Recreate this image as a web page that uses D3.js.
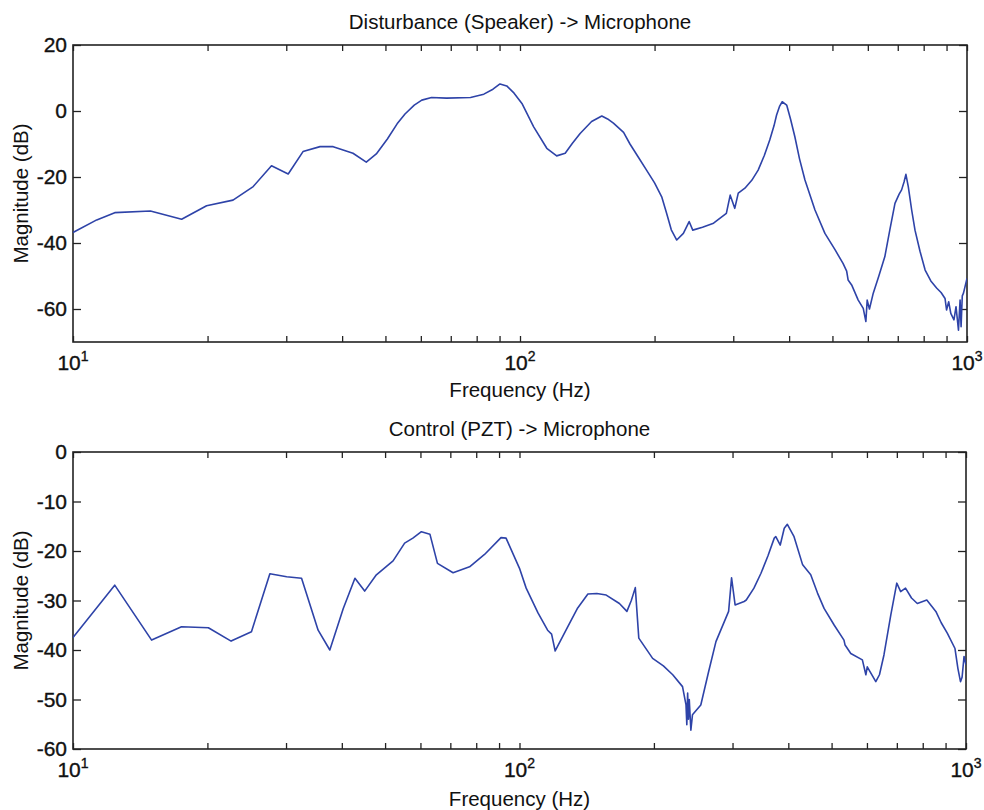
<!DOCTYPE html>
<html>
<head>
<meta charset="utf-8">
<script src="https://cdn.jsdelivr.net/npm/d3@7"></script>
<style>
  html, body { margin: 0; padding: 0; background: #fff; }
  svg { display: block; }
  text { font-family: "Liberation Sans", Arial, Helvetica, sans-serif; fill: #111; }
</style>
</head>
<body>
<svg id="chart" width="984" height="810"></svg>
<script>
// ---------------- DATA ----------------
const titles = ["Disturbance (Speaker) -> Microphone", "Control (PZT) -> Microphone"];
const xLabel = "Frequency (Hz)";
const yLabel = "Magnitude (dB)";

const xMajorTicks = [10, 100, 1000];
const xMajorExp = ["1", "2", "3"];
const xMinorTicks = [20, 30, 40, 50, 60, 70, 80, 90, 200, 300, 400, 500, 600, 700, 800, 900];

const yTicksTop = [20, 0, -20, -40, -60];
const yTickLabelsTop = ["20", "0", "-20", "-40", "-60"];
const yDomainTop = [-70, 20];

const yTicksBottom = [0, -10, -20, -30, -40, -50, -60];
const yTickLabelsBottom = ["0", "-10", "-20", "-30", "-40", "-50", "-60"];
const yDomainBottom = [-60, 0];

// Disturbance (Speaker) -> Microphone
const distFreq = [10, 11.3, 12.4, 14.9, 17.5, 19.9, 22.8, 25.3, 27.8, 30.3, 32.7, 35.7, 38.2, 42.3, 45.3, 47.7,
  50.5, 53.1, 55.3, 58, 60.3, 63.4, 68.5, 77.5, 83.0, 87, 90.2, 93.4, 97, 101, 107.3, 114.8, 120.8, 126.2, 131, 136.3, 144.6,
  152.4, 157, 161.8, 170.5, 176.2, 184, 191.9, 200, 207.5, 212.8, 218, 224.2, 232, 239, 243.5, 256, 271, 289.5, 295.3, 302.3,
  307.8, 318.5, 330, 341, 352, 362, 370, 375, 381, 386, 395, 403, 412, 422, 434, 457, 481, 507, 528, 538, 542, 552, 571, 586, 594,
  598, 605, 617, 635, 655, 672, 690, 705, 714, 723, 730, 739, 752, 765, 785, 806, 830, 856, 875, 893, 900, 910, 920, 935, 945,
  957, 965, 970, 976, 982, 1000];
const distDB = [-36.8, -33.0, -30.8, -30.3, -32.8, -28.7, -27.0, -22.9, -16.6, -19.1, -12.3, -10.8, -10.8, -12.8, -15.5, -13.0,
  -8.5, -3.9, -0.9, 1.8, 3.3, 4.1, 3.9, 4.1, 5.1, 6.6, 8.2, 7.6, 5.4, 2.3, -4.8, -11.3, -13.6, -12.8, -9.8, -6.8, -3.2,
  -1.5, -2.4, -3.7, -6.5, -10.0, -14.0, -17.9, -21.8, -26.0, -31.0, -36.0, -39.1, -37.1, -33.5, -36.1, -35.2, -34.0, -31.0, -25.5, -29.5,
  -24.9, -23.4, -21.0, -17.9, -13.5, -8.8, -4.5, -1.2, 1.5, 2.8, 1.8, -2.5, -7.8, -14.5, -20.9, -30.0, -37.1, -42.1, -46.2, -48.5, -51.2, -52.7, -57.3, -59.8, -63.8,
  -57.3, -60.0, -55.2, -50.0, -44.1, -36.0, -28.0, -25.2, -23.9, -21.5, -19.2, -22.9, -30.0, -36.1, -42.5, -48.2, -51.5, -53.7, -55.0, -56.8, -60.3, -57.8, -61.3, -63.3, -59.3,
  -66.4, -57.3, -65.4, -56.0, -55.2, -50.7];

// Control (PZT) -> Microphone
const ctrlFreq = [10, 12.4, 15.0, 17.5, 20.1, 22.6, 25.1, 27.6, 30.1, 32.5, 35.4, 37.6, 40.3, 42.8, 45.0, 47.8,
  52.1, 55.3, 57.7, 60.3, 63.0, 65.5, 71.0, 77.3, 83.5, 90.9, 93.3, 100, 103.5, 110, 115.6, 118, 120.2, 128.3,
  135, 142.3, 149, 156.4, 167.4, 174, 178, 181.7, 185, 198.7, 210, 220.4, 231.8, 236, 237, 238, 239, 240, 242, 244, 254.7,
  265, 275.4, 294, 298.5, 304, 318.5, 322, 335, 347.4, 360, 372, 375, 383.7, 391.7, 398, 412, 430.7, 449, 465, 481, 507,
  533, 536, 552, 586, 596.7, 601, 628, 640, 655, 678.6, 699.8, 714, 732, 755, 778, 817, 856, 880, 908, 944.8, 959,
  972, 980, 990, 1000];
const ctrlDB = [-37.5, -26.9, -38.0, -35.3, -35.5, -38.2, -36.3, -24.6, -25.2, -25.5, -36.0, -40.0, -31.6, -25.5, -28.1, -24.8,
  -22.0, -18.4, -17.4, -16.1, -16.6, -22.5, -24.4, -23.2, -20.7, -17.3, -17.4, -23.5, -27.5, -32.5, -36.0, -36.8, -40.2, -35.3,
  -31.5, -28.7, -28.6, -28.9, -30.6, -32.2, -30.0, -27.4, -37.6, -41.7, -43.2, -45.0, -47.4, -51.1, -55.1, -48.7, -54.0, -50.0, -56.2, -53.1, -51.1,
  -44.5, -38.3, -32.2, -25.4, -30.9, -30.2, -29.9, -27.5, -24.5, -21.0, -17.4, -17.1, -18.8, -15.4, -14.6, -17.1, -22.8, -24.8, -28.5, -31.6, -35.0,
  -38.0, -39.0, -40.7, -42.0, -45.0, -43.4, -46.4, -45.0, -41.0, -32.9, -26.5, -28.2, -27.5, -29.5, -30.6, -29.9, -32.2, -34.5, -36.6, -39.7, -43.7,
  -46.4, -45.5, -41.3, -43.0];

// ---------------- DRAW ----------------
const svg = d3.select("#chart");
const lineColor = "#2e43a8";

const panels = [
  { left: 73, right: 967, top: 45, bottom: 342, title: titles[0], titleY: 29, xLabelY: 397,
    yDomain: yDomainTop, yTicks: yTicksTop, yTickLabels: yTickLabelsTop, freq: distFreq, db: distDB },
  { left: 73, right: 966, top: 452, bottom: 749, title: titles[1], titleY: 436, xLabelY: 806,
    yDomain: yDomainBottom, yTicks: yTicksBottom, yTickLabels: yTickLabelsBottom, freq: ctrlFreq, db: ctrlDB }
];

panels.forEach((p, i) => {
  const x = d3.scaleLog().domain([10, 1000]).range([p.left, p.right]);
  const y = d3.scaleLinear().domain(p.yDomain).range([p.bottom, p.top]);
  const g = svg.append("g");

  const clipId = "clip" + i;
  svg.append("clipPath").attr("id", clipId).append("rect")
    .attr("x", p.left).attr("y", p.top).attr("width", p.right - p.left).attr("height", p.bottom - p.top);

  const allX = xMajorTicks.concat(xMinorTicks);
  const xAxisB = d3.axisBottom(x).tickValues(allX).tickSizeInner(-6).tickSizeOuter(0).tickFormat("");
  const xAxisT = d3.axisTop(x).tickValues(allX).tickSizeInner(-6).tickSizeOuter(0).tickFormat("");
  g.append("g").attr("transform", `translate(0,${p.bottom})`).call(xAxisB);
  g.append("g").attr("transform", `translate(0,${p.top})`).call(xAxisT);

  const yAxisL = d3.axisLeft(y).tickValues(p.yTicks).tickSizeInner(-8).tickSizeOuter(0).tickPadding(6)
    .tickFormat((d, k) => p.yTickLabels[k]);
  const yAxisR = d3.axisRight(y).tickValues(p.yTicks).tickSizeInner(-8).tickSizeOuter(0).tickFormat("");
  const gl = g.append("g").attr("transform", `translate(${p.left},0)`).call(yAxisL);
  g.append("g").attr("transform", `translate(${p.right},0)`).call(yAxisR);
  gl.selectAll("text").style("font-size", "21px").style("font-family", '"Liberation Sans", Arial, sans-serif')
    .attr("fill", "#111").attr("stroke", "#111").attr("stroke-width", 0.35);

  g.selectAll(".domain").remove();
  g.selectAll(".tick line").attr("stroke", "#222").attr("stroke-width", 1.3);

  g.append("rect").attr("x", p.left).attr("y", p.top)
    .attr("width", p.right - p.left).attr("height", p.bottom - p.top)
    .attr("fill", "none").attr("stroke", "#222").attr("stroke-width", 1.6);

  xMajorTicks.forEach((v, k) => {
    const t = g.append("text").attr("x", x(v)).attr("y", p.bottom + 28)
      .attr("text-anchor", "middle").style("font-size", "21px")
      .attr("stroke", "#111").attr("stroke-width", 0.35);
    t.append("tspan").text("10");
    t.append("tspan").attr("dy", -9).style("font-size", "14px").text(xMajorExp[k]);
  });

  const data = p.freq.map((f, k) => [f, p.db[k]]);
  const line = d3.line().x(d => x(d[0])).y(d => y(d[1]));
  g.append("path").datum(data).attr("d", line).attr("clip-path", `url(#${clipId})`)
    .attr("fill", "none").attr("stroke", lineColor).attr("stroke-width", 1.6)
    .attr("stroke-linejoin", "round");

  g.append("text").attr("x", (p.left + p.right) / 2).attr("y", p.titleY)
    .attr("text-anchor", "middle").style("font-size", "20.5px").text(p.title);
  g.append("text").attr("x", (p.left + p.right) / 2).attr("y", p.xLabelY)
    .attr("text-anchor", "middle").style("font-size", "20.5px").text(xLabel);
  g.append("text").attr("transform", `translate(28,${(p.top + p.bottom) / 2}) rotate(-90)`)
    .attr("text-anchor", "middle").style("font-size", "20.5px").text(yLabel);
});
</script>
</body>
</html>
